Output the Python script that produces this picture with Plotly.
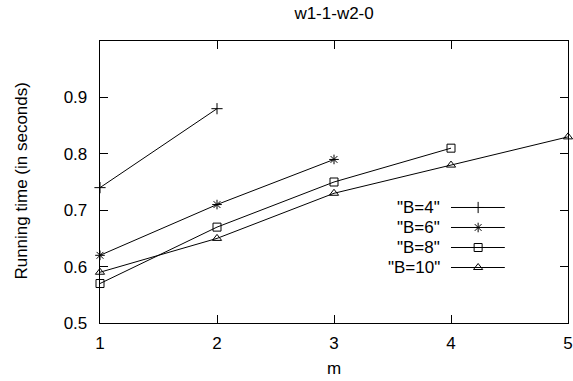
import plotly.graph_objects as go

m_b4 = [1, 2]
t_b4 = [0.74, 0.88]
m_b6 = [1, 2, 3]
t_b6 = [0.62, 0.71, 0.79]
m_b8 = [1, 2, 3, 4]
t_b8 = [0.57, 0.67, 0.75, 0.81]
m_b10 = [1, 2, 3, 4, 5]
t_b10 = [0.59, 0.65, 0.73, 0.78, 0.83]

series_names = ['"B=4"', '"B=6"', '"B=8"', '"B=10"']
series_symbols = ["cross-thin-open", "asterisk-open", "square-open", "triangle-up-open"]
x_ticks = [1, 2, 3, 4, 5]
y_ticks = [0.5, 0.6, 0.7, 0.8, 0.9]
y_ticktext = ["0.5", "0.6", "0.7", "0.8", "0.9"]

FONT = "Liberation Sans, Arial, sans-serif"
FS = 17

fig = go.Figure()
data = [(m_b4, t_b4), (m_b6, t_b6), (m_b8, t_b8), (m_b10, t_b10)]
for (xs, ys), name, sym in zip(data, series_names, series_symbols):
    fig.add_trace(go.Scatter(
        x=xs, y=ys, mode="lines+markers", name=name,
        line=dict(color="black", width=1),
        marker=dict(symbol=sym, size=8, color="black", line=dict(color="black", width=1)),
        showlegend=False, cliponaxis=False,
    ))

# gnuplot-style key: label on the left, line sample with marker on the right
leg_y = [0.4096, 0.3387, 0.2677, 0.1968]
for yv, name, sym in zip(leg_y, series_names, series_symbols):
    fig.add_trace(go.Scatter(
        x=[0.75, 0.865], y=[yv, yv], mode="lines",
        line=dict(color="black", width=1),
        xaxis="x2", yaxis="y2", showlegend=False, hoverinfo="skip",
    ))
    fig.add_trace(go.Scatter(
        x=[0.808], y=[yv], mode="markers",
        marker=dict(symbol=sym, size=8, color="black", line=dict(color="black", width=1)),
        xaxis="x2", yaxis="y2", showlegend=False, hoverinfo="skip",
    ))
    fig.add_annotation(
        x=0.7308, y=yv, xref="paper", yref="paper", text=name, showarrow=False,
        xanchor="right", yanchor="middle", font=dict(family=FONT, size=FS, color="black"),
    )

# axis titles
fig.add_annotation(x=0.5, y=-0.16, xref="paper", yref="paper", text="m", showarrow=False,
                   xanchor="center", yanchor="middle", font=dict(family=FONT, size=FS, color="black"))
fig.add_annotation(x=-0.1667, y=0.505, xref="paper", yref="paper", text="Running time (in seconds)",
                   textangle=-90, showarrow=False, xanchor="center", yanchor="middle",
                   font=dict(family=FONT, size=FS, color="black"))

axis_common = dict(
    showgrid=False, zeroline=False, showline=True, linecolor="black", linewidth=1.3,
    mirror="allticks", ticks="inside", ticklen=8, tickwidth=1, tickcolor="black",
    automargin=False, tickfont=dict(family=FONT, size=FS, color="black"),
)

fig.update_layout(
    width=573, height=381,
    margin=dict(l=100, r=5, t=41, b=58, autoexpand=False),
    paper_bgcolor="white", plot_bgcolor="white",
    title=dict(text="w1-1-w2-0", x=0.583, xanchor="center", y=0.966, yanchor="middle",
               font=dict(family=FONT, size=FS, color="black")),
    font=dict(family=FONT, size=FS, color="black"),
    hovermode=False,
    xaxis=dict(range=[1, 5], tickvals=x_ticks, ticktext=[str(v) for v in x_ticks],
               ticklabelstandoff=4, **axis_common),
    yaxis=dict(range=[0.5, 1.0], tickvals=y_ticks, ticktext=y_ticktext,
               ticklabelstandoff=8, **axis_common),
    xaxis2=dict(range=[0, 1], overlaying="x", visible=False, fixedrange=True),
    yaxis2=dict(range=[0, 1], overlaying="y", visible=False, fixedrange=True),
)

fig.write_html(
    "out.html",
    config={"displayModeBar": False, "staticPlot": True},
    post_script="document.body.style.margin='0';document.body.style.overflow='hidden';",
)
